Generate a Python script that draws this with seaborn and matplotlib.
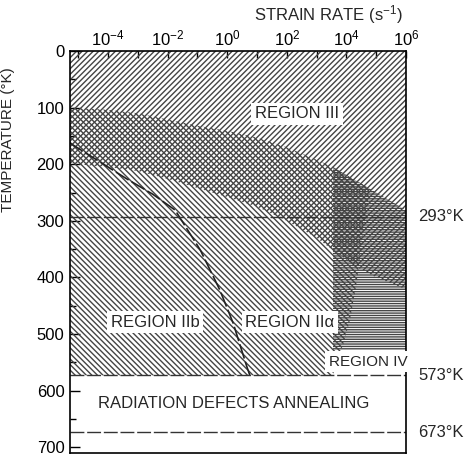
import numpy as np
import pandas as pd
import seaborn as sns
import matplotlib.pyplot as plt

# values: log10(strain rate) and temperature (K)
region3_lower_logx = [-5.5, -4, -3, -2, -1, 0, 1, 2, 3, 3.55, 4.36, 5, 6.2]
region3_lower_T = [198, 205, 212, 226, 242, 258, 275, 300, 330, 352, 382, 400, 425]

region2_upper_logx = [-5.5, -4, -3, -2, -1, 0, 1, 2, 3, 3.55, 4.2, 4.79]
region2_upper_T = [99, 104, 110, 121, 132, 141, 153, 170, 192, 205, 225, 243]
region2_right_logx = [4.79, 4.52, 4.36, 4.12, 3.89, 3.65, 3.55]
region2_right_T = [243, 334, 405, 475, 519, 549, 573]

region4_logx = [3.55, 6.2, 6.2, 3.55]
region4_T = [205, 287, 528, 528]

boundary_logx = [-5.3, -4.3, -3.4, -2.5, -1.75, -0.9, -0.25, 0.2, 0.66, 0.76]
boundary_T = [162, 195, 225, 253, 281, 352, 422, 481, 558, 573]

ref_temps = [293, 573, 673]
ref_labels = ["293°K", "573°K", "673°K"]

x_tick_exp = [-4, -2, 0, 2, 4, 6]
y_ticks = [0, 100, 200, 300, 400, 500, 600, 700]

region_names = ["REGION III", "REGION IIb", "REGION IIα", "REGION IV", "RADIATION DEFECTS ANNEALING"]
region_logx = [2.34, -2.42, 2.1, 4.72, 0.2]
region_T = [111, 479, 479, 549, 622]


def main():
    sns.set_style("ticks")
    plt.rcParams['font.family'] = ['Liberation Sans Narrow', 'Liberation Sans', 'DejaVu Sans']
    plt.rcParams['mathtext.default'] = 'regular'
    plt.rcParams['hatch.linewidth'] = 1.0
    hatch_col = '#444444'

    fig = plt.figure(figsize=(4.65, 4.57), dpi=100)
    ax = fig.add_axes([0.1505, 0.0088, 0.7226, 0.8796])
    ax.set_xscale('log')

    # region III, "/" hatching from the top down to its lower curve
    x3 = 10.0 ** np.array(region3_lower_logx)
    ax.fill(np.r_[x3, x3[::-1]], np.r_[region3_lower_T, [-10] * len(x3)],
            facecolor='none', edgecolor=hatch_col, hatch='//////', linewidth=0)

    # region II, "\" hatching
    x2 = 10.0 ** np.array(region2_upper_logx + region2_right_logx + [region2_upper_logx[0]])
    t2 = region2_upper_T + region2_right_T + [573]
    ax.fill(x2, t2, facecolor='none', edgecolor=hatch_col, hatch='\\' * 6, linewidth=0)

    # region IV, horizontal hatching
    ax.fill(10.0 ** np.array(region4_logx), region4_T,
            facecolor='none', edgecolor=hatch_col, hatch='-' * 7, linewidth=0)

    # boundary between IIa and IIb
    df = pd.DataFrame({"rate": 10.0 ** np.array(boundary_logx), "T": boundary_T})
    sns.lineplot(data=df, x="rate", y="T", ax=ax, color='#222222', lw=1.2,
                 estimator=None, sort=False)
    ax.lines[-1].set_dashes([9, 2])

    for t, lab in zip(ref_temps, ref_labels):
        ax.axhline(t, color='#333333', lw=1.0, dashes=(10, 2))
        ax.text(1.036, t, lab, transform=ax.get_yaxis_transform(), fontsize=12,
                va='center', ha='left')

    for name, lx, t in zip(region_names, region_logx, region_T):
        fs = 11 if name == "REGION IV" else 12
        ax.text(10.0 ** lx, t, name, fontsize=fs, ha='center', va='center',
                bbox=dict(facecolor='white', edgecolor='none', pad=2.5))

    ax.set_xlim(10.0 ** -5.28, 1e6)
    ax.set_ylim(710, 0)
    ax.xaxis.tick_top()
    ax.set_xticks(10.0 ** np.arange(-5, 7))
    ax.set_xticklabels(["$10^{%d}$" % e if e in x_tick_exp else "" for e in range(-5, 7)],
                       fontsize=12)
    ax.xaxis.set_minor_locator(plt.NullLocator())
    ax.set_yticks(y_ticks)
    ax.set_yticks(np.arange(50, 710, 100), minor=True)
    ax.set_yticklabels([str(v) for v in y_ticks], fontsize=12)
    ax.tick_params(axis='both', which='both', direction='in', colors='k', width=1)
    ax.tick_params(axis='x', length=5, pad=2)
    ax.tick_params(axis='y', which='major', length=7, pad=4)
    ax.tick_params(axis='y', which='minor', length=4)
    for sp in ax.spines.values():
        sp.set_linewidth(1.2)
        sp.set_color('k')

    ax.set_xlabel("")
    ax.set_ylabel("TEMPERATURE (°K)", fontsize=11)
    ax.yaxis.set_label_coords(-0.165, 0.78)
    ax.text(0.768, 1.09, "STRAIN RATE (s$^{-1}$)", transform=ax.transAxes,
            fontsize=12, ha='center', va='center')

    fig.savefig("out.png", dpi=100)


if __name__ == '__main__':
    main()
